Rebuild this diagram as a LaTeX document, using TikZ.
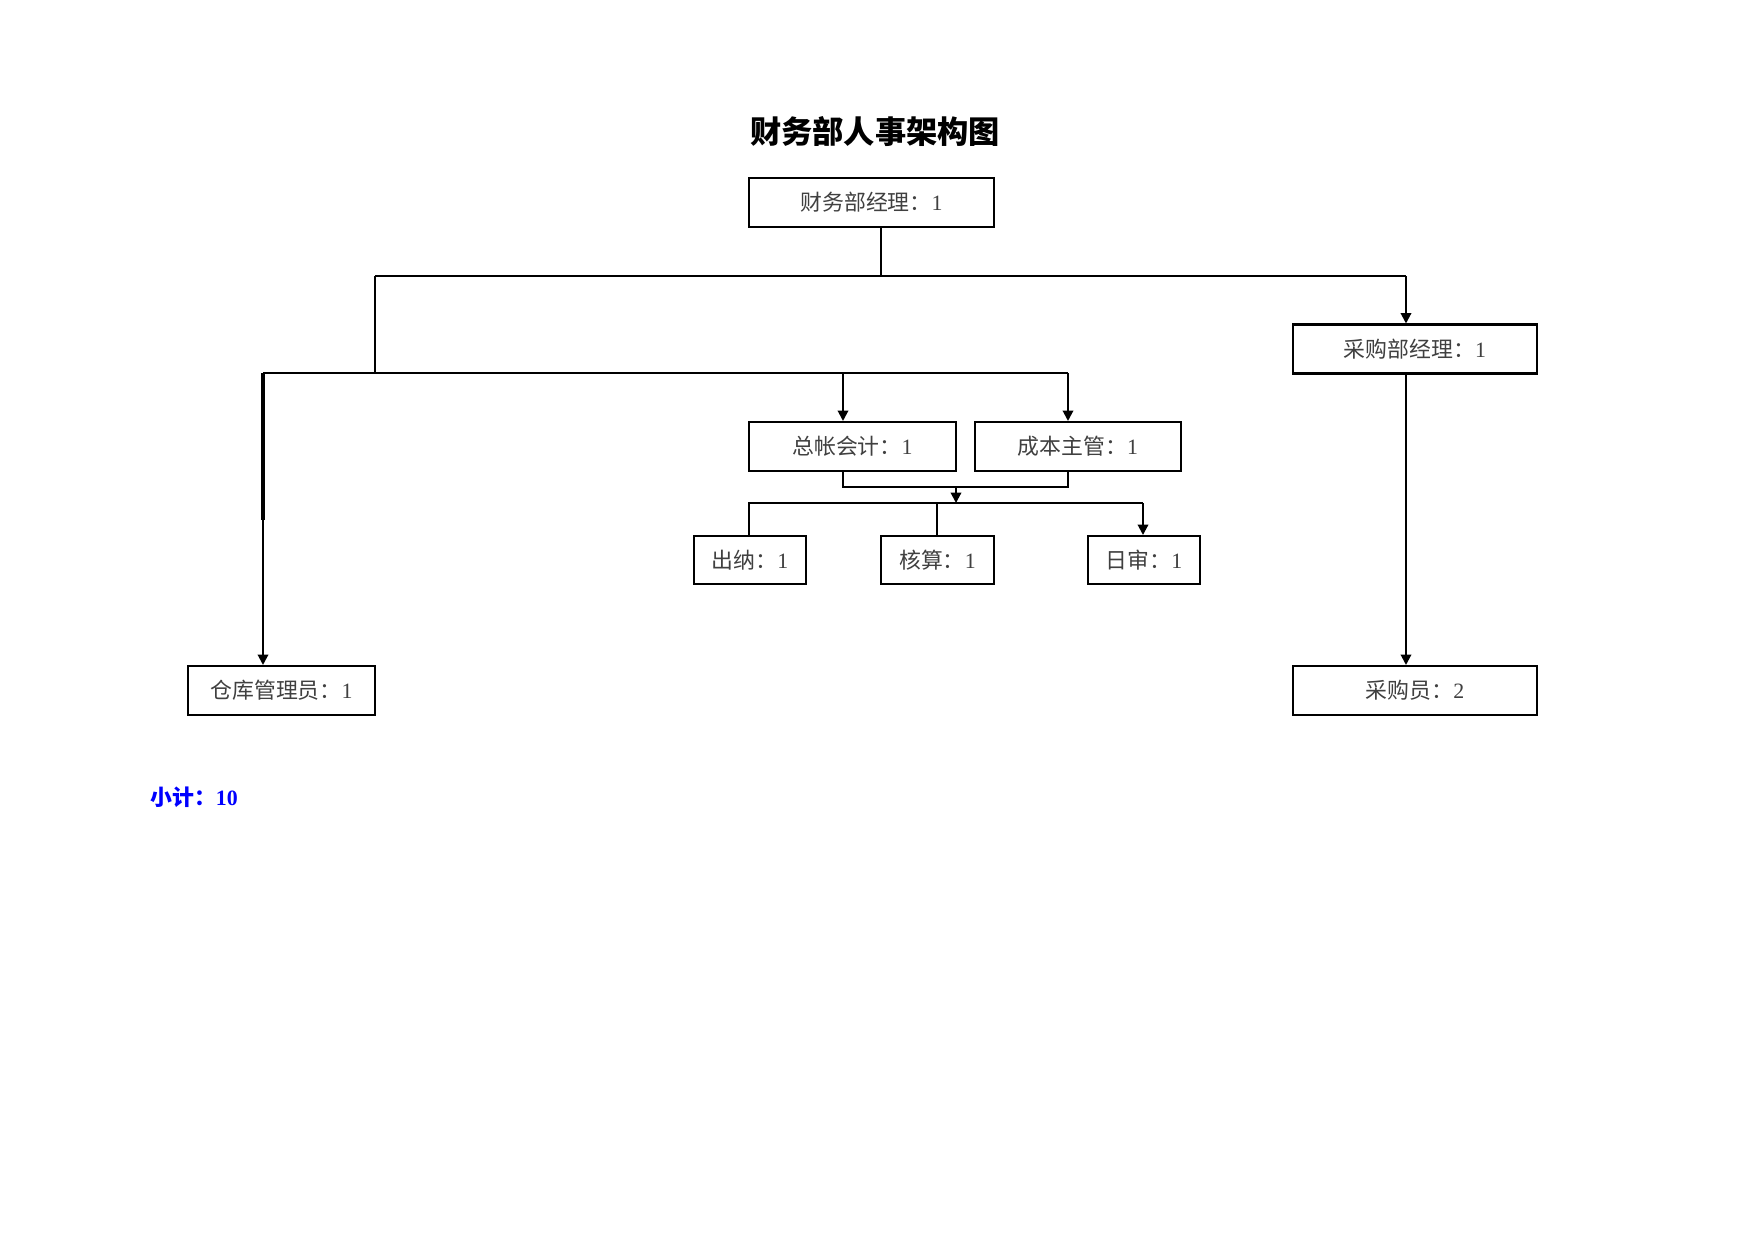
\documentclass[tikz,border=0pt]{standalone}
\usepackage{fontspec}
\setmainfont{Liberation Serif}
\newfontfamily\cjk{Noto Sans CJK SC}
\usetikzlibrary{arrows.meta}
\definecolor{boxtext}{gray}{0.25}
\begin{document}
\begin{tikzpicture}[x=0.48pt,y=-0.48pt,
  box/.style={draw,line width=1pt,inner sep=0pt,minimum height=23.5pt,
    font=\fontsize{10.5}{12}\selectfont,text=boxtext},
  conn/.style={line width=1pt},
  thin/.style={line width=0.5pt},
  arr/.style={conn,-{Triangle[length=5pt,width=5pt]}}]
\useasboundingbox[fill=white] (0,0) rectangle (1754,1241);

\node[font=\cjk\bfseries\fontsize{15}{18}\selectfont] (title) at (875,132) {财务部人事架构图};

\node[box,minimum width=117.6pt] (mgr) at (871.5,202.5) {{\cjk 财务部经理：}1};
\node[box,minimum width=117.1pt] (pm) at (1415,349) {{\cjk 采购部经理：}1};
\node[box,minimum width=117.1pt] (buyer) at (1415,690.5) {{\cjk 采购员：}2};
\node[box,minimum width=99.4pt] (gl) at (852.5,446.5) {{\cjk 总帐会计：}1};
\node[box,minimum width=98.9pt] (cost) at (1078,446.5) {{\cjk 成本主管：}1};
\node[box,minimum width=53.8pt,minimum height=23pt] (cashier) at (750,560) {{\cjk 出纳：}1};
\node[box,minimum width=54.2pt,minimum height=23pt] (check) at (937.5,560) {{\cjk 核算：}1};
\node[box,minimum width=53.8pt,minimum height=23pt] (audit) at (1144,560) {{\cjk 日审：}1};
\node[box,minimum width=89.8pt] (wh) at (281.5,690.5) {{\cjk 仓库管理员：}1};

\node[anchor=west,text=blue,font=\bfseries\fontsize{10.5}{12}\selectfont] (total) at (143,797) {{\cjk 小计：}10};

% junction coordinates
\coordinate (j1) at (881,276);
\coordinate (jl) at (375,276);
\coordinate (jr) at (1406,276);
\coordinate (j2) at (375,373);
\coordinate (ml) at (263,373);
\coordinate (mg) at (843,373);
\coordinate (mc) at (1068,373);
\coordinate (bl) at (843,487);
\coordinate (br) at (1068,487);
\coordinate (bm) at (956,487);
\coordinate (bt) at (956,503);
\coordinate (ll) at (749,503);
\coordinate (lm) at (937,503);
\coordinate (lr) at (1143,503);
\coordinate (thk) at (263,520);

% top level
\draw[thin] (j1 |- mgr.south) -- (j1);
\draw[conn] (jl) -- (jr);
\draw[arr] (jr) -- (jr |- pm.north);
\draw[arr] (jr |- pm.south) -- (jr |- buyer.north);
\draw[conn] (jl) -- (j2);

% second level
\draw[conn] (ml) -- (mc);
\draw[arr] (mg) -- (mg |- gl.north);
\draw[arr] (mc) -- (mc |- cost.north);
\draw[arr] (ml) -- (ml |- wh.north);
\draw[line width=1.5pt] (ml) -- (thk);

% bracket below gl/cost
\draw[conn] (bl |- gl.south) -- (bl) -- (br) -- (br |- cost.south);
\draw[arr] (bm) -- (bt);

% third level
\draw[conn] (ll |- cashier.north) -- (ll) -- (lr);
\draw[thin] (lm) -- (lm |- check.north);
\draw[arr] (lr) -- (lr |- audit.north);
\end{tikzpicture}
\end{document}
